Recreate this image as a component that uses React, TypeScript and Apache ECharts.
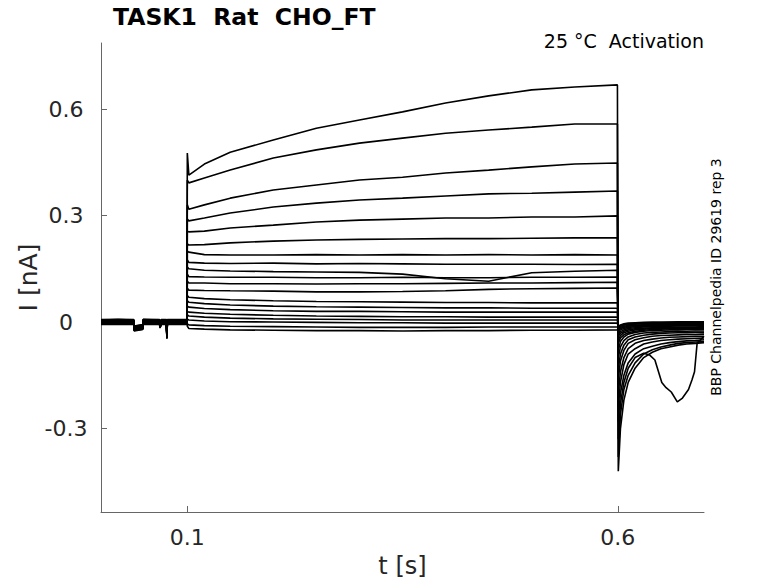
import React, { useEffect, useRef } from "react";
import * as echarts from "echarts";

const FONT = "DejaVu Sans";

const xTicks = [0.1, 0.6];
const yTicks = [-0.3, 0, 0.3, 0.6];

// holding period (shared), with per-trace small offsets (band thickness)
const baseTimes = [0, 0.02, 0.038, 0.0385, 0.0485, 0.049, 0.068, 0.0685, 0.07, 0.076, 0.0765, 0.077, 0.0998];
const baseValues = [0, 0.001, 0, -0.018, -0.014, 0.001, 0, -0.01, 0, 0, -0.04, 0, 0];
const baseOffsets = [0.006, -0.004, 0.003, -0.007, 0.005, -0.002, 0.001, -0.005, 0.004, -0.001, 0.002, -0.006, 0.007, -0.003, 0.0, 0.004, -0.004, 0.002, -0.002, 0.005];

// activation pulse
const pulseTimes = [0.1002, 0.102, 0.12, 0.15, 0.2, 0.25, 0.3, 0.35, 0.4, 0.45, 0.5, 0.55, 0.5995];
const pulseValues = [
  [0.476, 0.414, 0.445, 0.478, 0.513, 0.546, 0.569, 0.592, 0.617, 0.637, 0.654, 0.662, 0.668],
  [0.4, 0.392, 0.406, 0.428, 0.462, 0.485, 0.504, 0.518, 0.532, 0.541, 0.549, 0.558, 0.558],
  [0.33, 0.318, 0.33, 0.349, 0.372, 0.386, 0.4, 0.408, 0.42, 0.428, 0.437, 0.445, 0.448],
  [0.29, 0.285, 0.293, 0.307, 0.324, 0.335, 0.344, 0.349, 0.355, 0.361, 0.363, 0.366, 0.369],
  [0.256, 0.254, 0.256, 0.265, 0.273, 0.282, 0.287, 0.29, 0.293, 0.293, 0.296, 0.296, 0.299],
  [0.22, 0.217, 0.218, 0.223, 0.228, 0.231, 0.233, 0.234, 0.235, 0.235, 0.236, 0.237, 0.237],
  [0.2, 0.197, 0.19, 0.189, 0.189, 0.19, 0.189, 0.19, 0.189, 0.19, 0.189, 0.19, 0.189],
  [0.175, 0.168, 0.166, 0.165, 0.166, 0.164, 0.165, 0.164, 0.163, 0.163, 0.163, 0.162, 0.163],
  [0.155, 0.15, 0.146, 0.144, 0.142, 0.141, 0.14, 0.135, 0.122, 0.115, 0.139, 0.143, 0.146],
  [0.135, 0.128, 0.127, 0.126, 0.126, 0.125, 0.125, 0.126, 0.125, 0.125, 0.126, 0.126, 0.127],
  [0.115, 0.11, 0.11, 0.108, 0.108, 0.107, 0.108, 0.108, 0.109, 0.11, 0.11, 0.111, 0.112],
  [0.095, 0.09, 0.089, 0.088, 0.087, 0.085, 0.085, 0.086, 0.088, 0.092, 0.094, 0.095, 0.096],
  [0.075, 0.07, 0.066, 0.063, 0.06, 0.058, 0.057, 0.056, 0.055, 0.055, 0.054, 0.054, 0.054],
  [0.06, 0.056, 0.052, 0.048, 0.045, 0.043, 0.042, 0.041, 0.04, 0.04, 0.039, 0.039, 0.039],
  [0.045, 0.042, 0.038, 0.035, 0.032, 0.03, 0.03, 0.029, 0.028, 0.028, 0.028, 0.028, 0.028],
  [0.03, 0.028, 0.025, 0.022, 0.019, 0.017, 0.016, 0.015, 0.015, 0.014, 0.014, 0.014, 0.014],
  [0.02, 0.017, 0.014, 0.011, 0.009, 0.008, 0.007, 0.006, 0.006, 0.006, 0.006, 0.006, 0.006],
  [0.008, 0.006, 0.003, 0.001, 0.0, -0.001, -0.002, -0.002, -0.003, -0.003, -0.003, -0.003, -0.003],
  [-0.005, -0.008, -0.01, -0.012, -0.013, -0.014, -0.015, -0.015, -0.015, -0.014, -0.014, -0.014, -0.014],
  [-0.012, -0.018, -0.02, -0.022, -0.023, -0.024, -0.024, -0.025, -0.024, -0.024, -0.023, -0.023, -0.022],
];

// tail currents after the pulse
const tailTimes = [0.6005, 0.603, 0.607, 0.612, 0.62, 0.63, 0.64, 0.65, 0.66, 0.67, 0.68, 0.69, 0.7];
const tailValues = [
  [-0.42, -0.3, -0.22, -0.17, -0.13, -0.1, -0.085, -0.075, -0.07, -0.065, -0.062, -0.06, -0.058],
  [-0.38, -0.26, -0.19, -0.15, -0.115, -0.09, -0.078, -0.07, -0.065, -0.06, -0.058, -0.056, -0.055],
  [],
  [-0.28, -0.2, -0.15, -0.115, -0.09, -0.075, -0.068, -0.062, -0.058, -0.055, -0.053, -0.052, -0.05],
  [-0.24, -0.17, -0.12, -0.09, -0.075, -0.062, -0.056, -0.052, -0.05, -0.048, -0.047, -0.046, -0.045],
  [-0.2, -0.14, -0.1, -0.075, -0.06, -0.052, -0.048, -0.045, -0.043, -0.042, -0.041, -0.04, -0.04],
  [-0.16, -0.11, -0.08, -0.06, -0.05, -0.044, -0.04, -0.038, -0.037, -0.036, -0.035, -0.035, -0.034],
  [-0.13, -0.09, -0.065, -0.05, -0.042, -0.037, -0.034, -0.032, -0.031, -0.03, -0.03, -0.029, -0.029],
  [-0.1, -0.07, -0.052, -0.042, -0.035, -0.031, -0.029, -0.028, -0.027, -0.026, -0.026, -0.025, -0.025],
  [-0.08, -0.055, -0.042, -0.034, -0.029, -0.026, -0.024, -0.023, -0.022, -0.022, -0.021, -0.021, -0.02],
  [-0.06, -0.045, -0.036, -0.03, -0.026, -0.023, -0.021, -0.02, -0.019, -0.019, -0.018, -0.018, -0.018],
  [-0.05, -0.038, -0.03, -0.026, -0.022, -0.02, -0.018, -0.017, -0.017, -0.016, -0.016, -0.016, -0.015],
  [-0.04, -0.032, -0.026, -0.022, -0.019, -0.017, -0.016, -0.015, -0.015, -0.014, -0.014, -0.014, -0.013],
  [-0.035, -0.027, -0.022, -0.018, -0.016, -0.014, -0.013, -0.012, -0.012, -0.011, -0.011, -0.011, -0.011],
  [-0.03, -0.022, -0.018, -0.015, -0.013, -0.012, -0.011, -0.01, -0.01, -0.009, -0.009, -0.009, -0.009],
  [-0.025, -0.018, -0.015, -0.012, -0.011, -0.01, -0.009, -0.008, -0.008, -0.007, -0.007, -0.007, -0.007],
  [-0.02, -0.015, -0.012, -0.01, -0.009, -0.008, -0.007, -0.006, -0.006, -0.006, -0.005, -0.005, -0.005],
  [-0.018, -0.012, -0.009, -0.007, -0.006, -0.005, -0.004, -0.004, -0.003, -0.003, -0.003, -0.003, -0.003],
  [-0.015, -0.01, -0.007, -0.005, -0.004, -0.003, -0.002, -0.002, -0.001, -0.001, -0.001, -0.001, -0.001],
  [-0.012, -0.008, -0.005, -0.003, -0.002, -0.001, 0.0, 0.0, 0.0, 0.001, 0.001, 0.001, 0.001],
];

// the one irregular tail trace (index 2)
const oddTailIndex = 2;
const oddTailTimes = [0.6005, 0.603, 0.607, 0.612, 0.62, 0.63, 0.637, 0.643, 0.651, 0.656, 0.662, 0.669, 0.675, 0.682, 0.686, 0.689, 0.692, 0.7];
const oddTailValues = [-0.33, -0.23, -0.17, -0.13, -0.1, -0.088, -0.093, -0.107, -0.17, -0.185, -0.197, -0.225, -0.214, -0.19, -0.163, -0.14, -0.06, -0.04];

function buildTrace(k: number): number[][] {
  const pts: number[][] = [];
  baseTimes.forEach((t, i) => pts.push([t, baseValues[i] + baseOffsets[k]]));
  pulseTimes.forEach((t, i) => pts.push([t, pulseValues[k][i]]));
  if (k === oddTailIndex) {
    oddTailTimes.forEach((t, i) => pts.push([t, oddTailValues[i]]));
  } else {
    tailTimes.forEach((t, i) => pts.push([t, tailValues[k][i]]));
  }
  return pts;
}

export default function App() {
  const ref = useRef<HTMLDivElement>(null);
  useEffect(() => {
    if (!ref.current) return;
    const chart = echarts.init(ref.current, undefined, { renderer: "svg" });
    const axisColor = "#666666";
    const labelColor = "#262626";
    const option: any = {
      animation: false,
      backgroundColor: "#ffffff",
      title: {
        text: "TASK1  Rat  CHO_FT",
        left: 113,
        top: 5,
        padding: 0,
        textStyle: { fontFamily: FONT, fontSize: 23.5, fontWeight: "bold", color: "#000" },
      },
      grid: { left: 101, top: 43, width: 603, height: 469, outerBoundsMode: "none" },
      xAxis: {
        type: "value",
        min: 0,
        max: 0.7,
        name: "t [s]",
        nameLocation: "middle",
        nameGap: 42,
        nameMoveOverlap: false,
        nameTextStyle: { fontFamily: FONT, fontSize: 24, color: labelColor },
        axisLine: { show: true, onZero: false, lineStyle: { color: axisColor, width: 1 } },
        axisTick: { show: true, inside: true, length: 6, customValues: xTicks, lineStyle: { color: axisColor } },
        axisLabel: {
          customValues: xTicks,
          fontFamily: FONT,
          fontSize: 22,
          color: labelColor,
          margin: 14,
          formatter: (v: number) => String(v),
        },
        splitLine: { show: false },
      },
      yAxis: {
        type: "value",
        min: -0.535,
        max: 0.786,
        name: "I [nA]",
        nameLocation: "middle",
        nameGap: 60,
        nameMoveOverlap: false,
        nameRotate: 90,
        nameTextStyle: { fontFamily: FONT, fontSize: 25, color: labelColor },
        axisLine: { show: true, onZero: false, lineStyle: { color: axisColor, width: 1 } },
        axisTick: { show: true, inside: true, length: 6, customValues: yTicks, lineStyle: { color: axisColor } },
        axisLabel: {
          customValues: yTicks,
          fontFamily: FONT,
          fontSize: 22,
          color: labelColor,
          align: "center",
          margin: 35,
          formatter: (v: number) => String(v),
        },
        splitLine: { show: false },
      },
      graphic: [
        {
          type: "text",
          x: 704,
          y: 41,
          style: {
            text: "25 °C  Activation",
            fontFamily: FONT,
            fontSize: 19,
            fill: "#000",
            align: "right",
            verticalAlign: "middle",
          },
        },
        {
          type: "text",
          x: 716,
          y: 277,
          rotation: Math.PI / 2,
          style: {
            text: "BBP Channelpedia ID 29619 rep 3",
            fontFamily: FONT,
            fontSize: 14,
            fill: "#000",
            align: "center",
            verticalAlign: "middle",
          },
        },
      ],
      series: pulseValues.map((_, k) => ({
        type: "line",
        name: "trace " + (k + 1),
        data: buildTrace(k),
        symbol: "none",
        smooth: false,
        lineStyle: { color: "#000", width: 1.6 },
        silent: true,
      })),
    };
    chart.setOption(option);
    return () => chart.dispose();
  }, []);
  return (
    <div
      ref={ref}
      style={{ position: "fixed", left: 0, top: 0, width: 778, height: 583, background: "#fff" }}
    />
  );
}
